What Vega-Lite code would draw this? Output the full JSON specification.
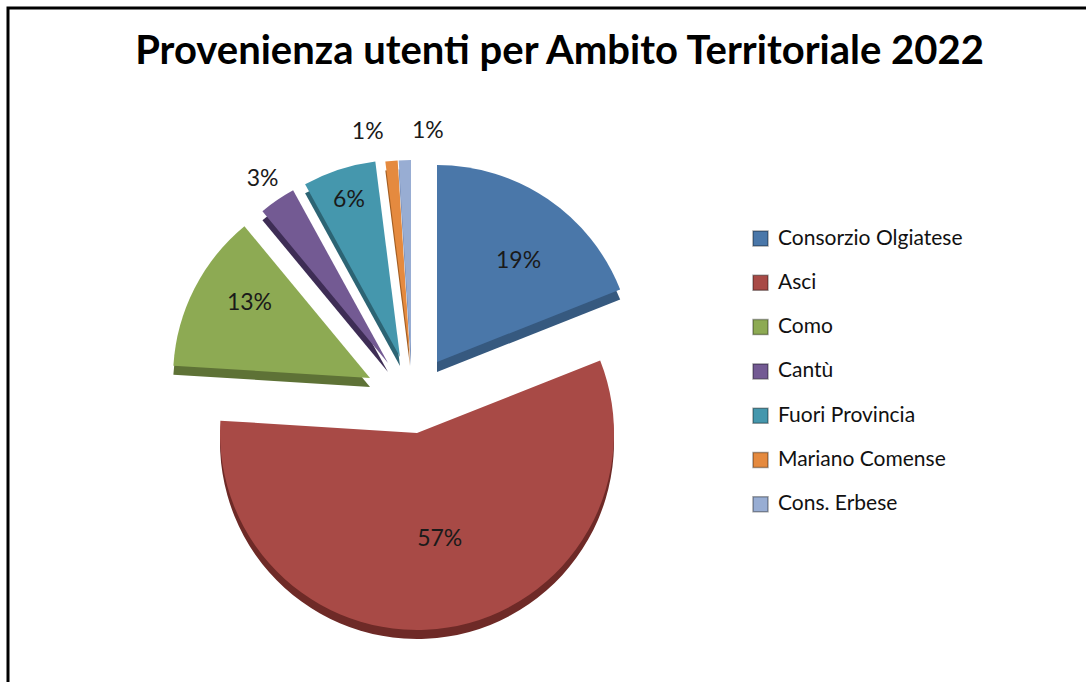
{
  "$schema": "https://vega.github.io/schema/vega-lite/v6.json",
  "width": 1081,
  "height": 677,
  "autosize": {"type": "none"},
  "padding": {"left": 8, "top": 8, "right": 0, "bottom": 0},
  "background": "white",
  "view": {"stroke": "#000000", "strokeWidth": 3},
  "config": {
    "view": {"stroke": "#000000", "strokeWidth": 3},
    "font": "Lato"
  },
  "title": {
    "text": "Provenienza utenti per Ambito Territoriale 2022",
    "font": "Lato",
    "fontSize": 40,
    "fontWeight": "bold",
    "color": "#000000",
    "anchor": "middle",
    "offset": -64,
    "dx": 11
  },
  "data": {
    "values": [
      {"cat": "Consorzio Olgiatese", "value": 0.19, "order": 1},
      {"cat": "Asci", "value": 0.57, "order": 2},
      {"cat": "Como", "value": 0.13, "order": 3},
      {"cat": "Cantù", "value": 0.03, "order": 4},
      {"cat": "Fuori Provincia", "value": 0.06, "order": 5},
      {"cat": "Mariano Comense", "value": 0.01, "order": 6},
      {"cat": "Cons. Erbese", "value": 0.01, "order": 7}
    ]
  },
  "transform": [
    {"stack": "value", "groupby": [], "sort": [{"field": "order", "order": "ascending"}], "as": ["v0", "v1"]}
  ],
  "encoding": {
    "color": {
      "field": "cat",
      "type": "nominal",
      "scale": {
        "domain": ["Consorzio Olgiatese", "Asci", "Como", "Cantù", "Fuori Provincia", "Mariano Comense", "Cons. Erbese"],
        "range": ["#4A77A9", "#A84A46", "#8DAA53", "#735A93", "#4597AD", "#E58A3F", "#98ADD3"]
      },
      "legend": {
        "orient": "none",
        "legendX": 742,
        "legendY": 220,
        "title": null,
        "padding": 0,
        "symbolType": "square",
        "symbolSize": 225,
        "symbolStrokeColor": "rgba(0,0,0,0.35)",
        "symbolStrokeWidth": 1.5,
        "labelFont": "Lato",
        "labelFontSize": 21,
        "labelLimit": 400,
        "labelColor": "#111111",
        "labelOffset": 7,
        "rowPadding": 22.3
      }
    }
  },
  "layer": [
    {
      "transform": [{"filter": "datum.cat === 'Consorzio Olgiatese'"}],
      "encoding": {"theta": {"field": "v0", "type": "quantitative", "scale": {"domain": [0, 1]}}, "theta2": {"field": "v1"}},
      "layer": [
        {"mark": {"type": "arc", "radius": 197, "xOffset": -111.5, "yOffset": 25.5}, "encoding": {"color": {"value": "#36597F"}}},
        {"mark": {"type": "arc", "radius": 197, "xOffset": -111.5, "yOffset": 15.5}}
      ]
    },
    {
      "transform": [{"filter": "datum.cat === 'Asci'"}],
      "encoding": {"theta": {"field": "v0", "type": "quantitative", "scale": {"domain": [0, 1]}}, "theta2": {"field": "v1"}},
      "layer": [
        {"mark": {"type": "arc", "radius": 197, "xOffset": -131.5, "yOffset": 95.5}, "encoding": {"color": {"value": "#6E2A27"}}},
        {"mark": {"type": "arc", "radius": 197, "xOffset": -131.5, "yOffset": 86.5}}
      ]
    },
    {
      "transform": [{"filter": "datum.cat === 'Como'"}],
      "encoding": {"theta": {"field": "v0", "type": "quantitative", "scale": {"domain": [0, 1]}}, "theta2": {"field": "v1"}},
      "layer": [
        {"mark": {"type": "arc", "radius": 197, "xOffset": -178.5, "yOffset": 40.5}, "encoding": {"color": {"value": "#5E7236"}}},
        {"mark": {"type": "arc", "radius": 197, "xOffset": -178.5, "yOffset": 31.5}}
      ]
    },
    {
      "transform": [{"filter": "datum.cat === 'Cantù'"}],
      "encoding": {"theta": {"field": "v0", "type": "quantitative", "scale": {"domain": [0, 1]}}, "theta2": {"field": "v1"}},
      "layer": [
        {"mark": {"type": "arc", "radius": 197, "xOffset": -160.5, "yOffset": 25.5}, "encoding": {"color": {"value": "#3E2D55"}}},
        {"mark": {"type": "arc", "radius": 197, "xOffset": -160.5, "yOffset": 16.5}}
      ]
    },
    {
      "transform": [{"filter": "datum.cat === 'Fuori Provincia'"}],
      "encoding": {"theta": {"field": "v0", "type": "quantitative", "scale": {"domain": [0, 1]}}, "theta2": {"field": "v1"}},
      "layer": [
        {"mark": {"type": "arc", "radius": 197, "xOffset": -148.5, "yOffset": 19.5}, "encoding": {"color": {"value": "#2C6474"}}},
        {"mark": {"type": "arc", "radius": 197, "xOffset": -148.5, "yOffset": 10.5}}
      ]
    },
    {
      "transform": [{"filter": "datum.cat === 'Mariano Comense'"}],
      "encoding": {"theta": {"field": "v0", "type": "quantitative", "scale": {"domain": [0, 1]}}, "theta2": {"field": "v1"}},
      "layer": [
        {"mark": {"type": "arc", "radius": 197, "xOffset": -138.5, "yOffset": 19.5}, "encoding": {"color": {"value": "#A35E22"}}},
        {"mark": {"type": "arc", "radius": 197, "xOffset": -138.5, "yOffset": 10.5}}
      ]
    },
    {
      "transform": [{"filter": "datum.cat === 'Cons. Erbese'"}],
      "encoding": {"theta": {"field": "v0", "type": "quantitative", "scale": {"domain": [0, 1]}}, "theta2": {"field": "v1"}},
      "layer": [
        {"mark": {"type": "arc", "radius": 197, "xOffset": -137.5, "yOffset": 19.5}, "encoding": {"color": {"value": "#6E86B2"}}},
        {"mark": {"type": "arc", "radius": 197, "xOffset": -137.5, "yOffset": 10.5}}
      ]
    },
    {
      "encoding": {
        "theta": {"field": "value", "type": "quantitative", "stack": true, "scale": {"domain": [0, 1]}},
        "order": {"field": "order", "type": "quantitative"},
        "color": {"value": "#1a1a1a"},
        "text": {"field": "value", "type": "quantitative", "format": ".0%"}
      },
      "layer": [
        {"mark": {"type": "text", "radius": 129, "xOffset": -111.5, "yOffset": 15.5, "dx": 9, "dy": 6, "fontSize": 23, "font": "Lato", "align": "center", "baseline": "middle"},
         "encoding": {"opacity": {"condition": {"test": "datum.cat === 'Consorzio Olgiatese'", "value": 1}, "value": 0}}},
        {"mark": {"type": "text", "radius": 107, "xOffset": -131.5, "yOffset": 86.5, "dx": 6, "fontSize": 23, "font": "Lato", "align": "center", "baseline": "middle"},
         "encoding": {"opacity": {"condition": {"test": "datum.cat === 'Asci'", "value": 1}, "value": 0}}},
        {"mark": {"type": "text", "radius": 142, "xOffset": -178.5, "yOffset": 31.5, "dx": 6, "dy": -11, "fontSize": 23, "font": "Lato", "align": "center", "baseline": "middle"},
         "encoding": {"opacity": {"condition": {"test": "datum.cat === 'Como'", "value": 1}, "value": 0}}},
        {"mark": {"type": "text", "radius": 223, "xOffset": -160.5, "yOffset": 16.5, "fontSize": 23, "font": "Lato", "align": "center", "baseline": "middle"},
         "encoding": {"opacity": {"condition": {"test": "datum.cat === 'Cantù'", "value": 1}, "value": 0}}},
        {"mark": {"type": "text", "radius": 165, "xOffset": -148.5, "yOffset": 10.5, "fontSize": 23, "font": "Lato", "align": "center", "baseline": "middle"},
         "encoding": {"opacity": {"condition": {"test": "datum.cat === 'Fuori Provincia'", "value": 1}, "value": 0}}},
        {"mark": {"type": "text", "radius": 226, "xOffset": -138.5, "yOffset": 10.5, "dx": -21, "fontSize": 23, "font": "Lato", "align": "center", "baseline": "middle"},
         "encoding": {"opacity": {"condition": {"test": "datum.cat === 'Mariano Comense'", "value": 1}, "value": 0}}},
        {"mark": {"type": "text", "radius": 226, "xOffset": -137.5, "yOffset": 10.5, "dx": 24, "fontSize": 23, "font": "Lato", "align": "center", "baseline": "middle"},
         "encoding": {"opacity": {"condition": {"test": "datum.cat === 'Cons. Erbese'", "value": 1}, "value": 0}}}
      ]
    }
  ]
}
